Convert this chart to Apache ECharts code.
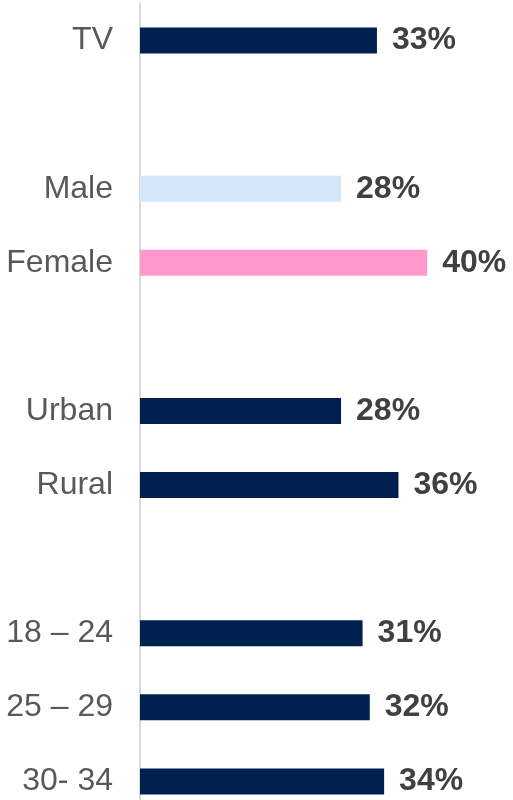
<!DOCTYPE html>
<html>
<head>
<meta charset="utf-8">
<script src="https://cdn.jsdelivr.net/npm/echarts@6/dist/echarts.min.js"></script>
<style>
html,body{margin:0;padding:0;background:#fff;}
#chart{width:513px;height:800px;}
</style>
</head>
<body>
<div id="chart"></div>
<script>
const categories = ['TV', '', 'Male', 'Female', ' ', 'Urban', 'Rural', '  ', '18 – 24', '25 – 29', '30- 34'];
const values = [33, null, 28, 40, null, 28, 36, null, 31, 32, 34];
const barColors = ['#002050', null, '#D5E5FA', '#FF99CC', null, '#002050', '#002050', null, '#002050', '#002050', '#002050'];

const chart = echarts.init(document.getElementById('chart'));
const font = '"Liberation Sans", Arial, sans-serif';
chart.setOption({
  animation: false,
  grid: { left: 140, top: 3.5, height: 815, width: 359, containLabel: false, outerBoundsMode: 'none' },
  xAxis: { type: 'value', min: 0, max: 50, show: false },
  yAxis: {
    type: 'category',
    data: categories,
    inverse: true,
    axisLine: { show: true, lineStyle: { color: '#d9d9d9', width: 2 } },
    axisTick: { show: false },
    axisLabel: { color: '#595959', fontSize: 32, fontFamily: font, margin: 27 }
  },
  series: [{
    type: 'bar',
    barWidth: 26,
    data: values.map((v, i) => ({ value: v, itemStyle: { color: barColors[i] || '#002050' } })),
    label: {
      show: true,
      position: 'right',
      distance: 15,
      color: '#404040',
      fontSize: 32,
      fontWeight: 'bold',
      fontFamily: font,
      formatter: p => (p.value == null ? '' : p.value + '%')
    }
  }]
});
</script>
</body>
</html>
